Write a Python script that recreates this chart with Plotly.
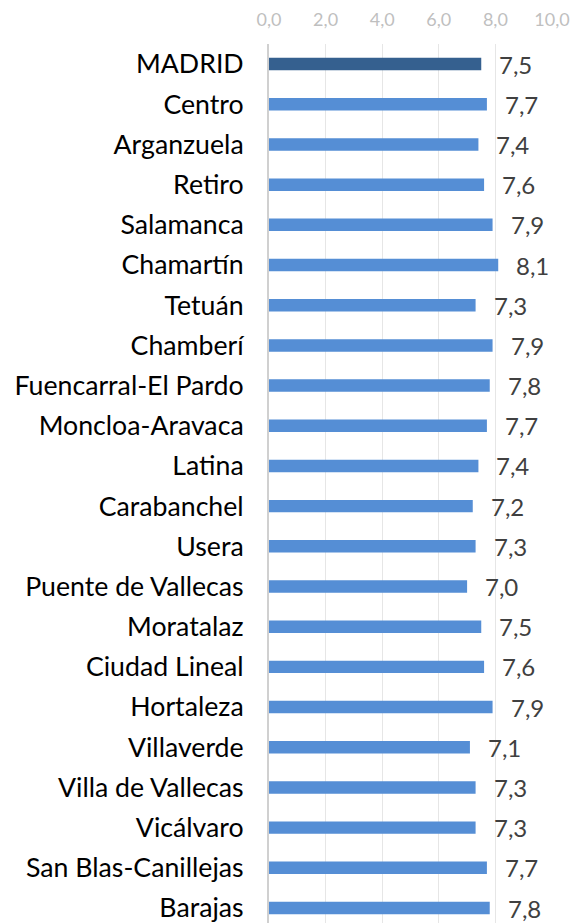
import plotly.graph_objects as go

categories = ["MADRID", "Centro", "Arganzuela", "Retiro", "Salamanca", "Chamartín",
              "Tetuán", "Chamberí", "Fuencarral-El Pardo", "Moncloa-Aravaca", "Latina",
              "Carabanchel", "Usera", "Puente de Vallecas", "Moratalaz", "Ciudad Lineal",
              "Hortaleza", "Villaverde", "Villa de Vallecas", "Vicálvaro",
              "San Blas-Canillejas", "Barajas"]
values = [7.5, 7.7, 7.4, 7.6, 7.9, 8.1, 7.3, 7.9, 7.8, 7.7, 7.4, 7.2, 7.3, 7.0,
          7.5, 7.6, 7.9, 7.1, 7.3, 7.3, 7.7, 7.8]
tick_vals = [0, 2, 4, 6, 8, 10]
tick_text = ["0,0", "2,0", "4,0", "6,0", "8,0", "10,0"]

colors = ["#35608F" if c == "MADRID" else "#558ED5" for c in categories]
idx = list(range(len(categories)))

fig = go.Figure()
fig.add_trace(go.Bar(
    x=values, y=idx, orientation="h",
    marker=dict(color=colors, line=dict(width=0)),
    width=0.31,
    hoverinfo="skip",
))

for i, v in zip(idx, values):
    fig.add_annotation(
        x=v, y=i, text=f"{v:.1f}".replace(".", ","),
        xanchor="left", yanchor="middle", xshift=16, yshift=0,
        showarrow=False,
        font=dict(family="Lato", size=24, color="#404040"),
    )

fig.update_layout(
    width=575, height=923,
    margin=dict(l=269, r=23, t=44, b=0),
    plot_bgcolor="white", paper_bgcolor="white",
    showlegend=False,
    font=dict(family="Lato"),
)
fig.update_xaxes(
    range=[0, 10], side="top", tickvals=tick_vals, ticktext=tick_text,
    tickfont=dict(family="Lato", size=18, color="#BFBFBF"),
    showgrid=True, gridcolor="#E6E6E6", gridwidth=1,
    zeroline=False, showline=False, ticks="", ticklabelstandoff=13,
    automargin=False, ticklabeloverflow="allow",
)
fig.update_yaxes(
    range=[21.373, -0.5], tickvals=idx, ticktext=categories,
    tickfont=dict(family="Lato", size=26.7, color="#000000"),
    showgrid=False, zeroline=False, ticks="",
    showline=True, linecolor="#D0D0D0", linewidth=2,
    ticklabelstandoff=18, automargin=False, ticklabeloverflow="allow",
)

fig.write_html(
    "out.html",
    config={"displayModeBar": False},
    post_script="document.body.style.margin='0';document.body.style.overflow='hidden';",
)
